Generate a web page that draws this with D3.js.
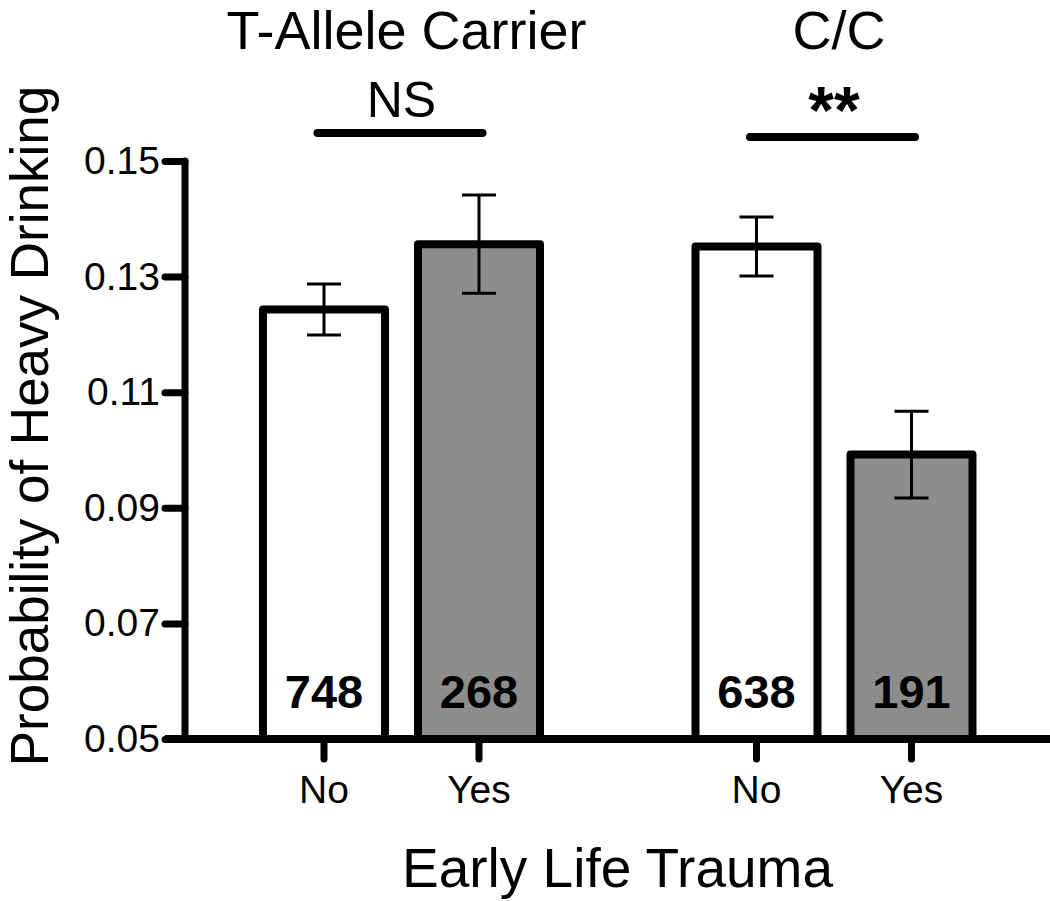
<!DOCTYPE html>
<html>
<head>
<meta charset="utf-8">
<script src="https://cdn.jsdelivr.net/npm/d3@7"></script>
<style>
  body { margin: 0; background: #fff; }
  text { font-family: "Liberation Sans", Arial, sans-serif; fill: #000; }
</style>
</head>
<body>
<script>
// data
const groups = ["T-Allele Carrier", "C/C"];
const trauma = ["No", "Yes"];
const means = [[0.1243, 0.1356], [0.1352, 0.0992]];
const errors = [[0.0044, 0.0085], [0.0051, 0.0075]];
const counts = [[748, 268], [638, 191]];
const signif = ["NS", "**"];
const yTicks = [0.05, 0.07, 0.09, 0.11, 0.13, 0.15];

const W = 1050, H = 901;
const axisX = 185, axisY = 739;

const svg = d3.select("body").append("svg")
  .attr("width", W)
  .attr("height", H);

const y = d3.scaleLinear().domain([0.05, 0.15]).range([axisY, 161]);
const xGroup = d3.scalePoint().domain(groups).range([401.5, 834]);
const xInner = d3.scaleBand().domain(trauma).range([-155, 155])
  .paddingInner(0.213).paddingOuter(0.1065);

const fills = { No: "#fff", Yes: "#8d8d8d" };

// flatten for drawing
const bars = [];
groups.forEach((g, i) => {
  trauma.forEach((t, j) => {
    bars.push({ g, t, mean: means[i][j], err: errors[i][j], n: counts[i][j] });
  });
});
const cx = d => xGroup(d.g) + xInner(d.t) + xInner.bandwidth() / 2;

// bars
svg.selectAll("rect.bar")
  .data(bars)
  .join("rect")
  .attr("class", "bar")
  .attr("x", d => xGroup(d.g) + xInner(d.t))
  .attr("y", d => y(d.mean))
  .attr("width", xInner.bandwidth())
  .attr("height", d => axisY - y(d.mean))
  .attr("fill", d => fills[d.t])
  .attr("stroke", "#000")
  .attr("stroke-width", 8)
  .attr("stroke-linejoin", "round");

// error bars
const eb = svg.selectAll("g.err").data(bars).join("g").attr("class", "err")
  .attr("stroke", "#000").attr("stroke-width", 3);
eb.append("line")
  .attr("x1", cx).attr("x2", cx)
  .attr("y1", d => y(d.mean + d.err)).attr("y2", d => y(d.mean - d.err));
eb.append("line")
  .attr("x1", d => cx(d) - 17).attr("x2", d => cx(d) + 17)
  .attr("y1", d => y(d.mean + d.err)).attr("y2", d => y(d.mean + d.err));
eb.append("line")
  .attr("x1", d => cx(d) - 17).attr("x2", d => cx(d) + 17)
  .attr("y1", d => y(d.mean - d.err)).attr("y2", d => y(d.mean - d.err));

// counts inside bars
svg.selectAll("text.count")
  .data(bars)
  .join("text")
  .attr("class", "count")
  .attr("x", cx)
  .attr("y", 708)
  .attr("text-anchor", "middle")
  .style("font-size", "47px")
  .style("font-weight", "bold")
  .text(d => d.n);

// y axis
const yAxis = svg.append("g")
  .attr("transform", `translate(${axisX},0)`)
  .call(d3.axisLeft(y).tickValues(yTicks).tickFormat(d3.format(".2f")).tickSize(20).tickPadding(5));
yAxis.select(".domain").remove();
yAxis.selectAll(".tick line").attr("stroke", "#000").attr("stroke-width", 7).attr("stroke-linecap", "round");
yAxis.selectAll(".tick text")
  .style("font-size", "39px")
  .style("font-family", "'Liberation Sans', Arial, sans-serif");

svg.append("line")
  .attr("x1", axisX).attr("x2", axisX)
  .attr("y1", y(0.15)).attr("y2", axisY)
  .attr("stroke", "#000").attr("stroke-width", 7).attr("stroke-linecap", "round");

// x axis
svg.append("line")
  .attr("x1", axisX - 20).attr("x2", W)
  .attr("y1", axisY).attr("y2", axisY)
  .attr("stroke", "#000").attr("stroke-width", 8);

svg.selectAll("line.xtick")
  .data(bars)
  .join("line")
  .attr("class", "xtick")
  .attr("x1", cx).attr("x2", cx)
  .attr("y1", axisY).attr("y2", 759)
  .attr("stroke", "#000").attr("stroke-width", 7).attr("stroke-linecap", "round");

svg.selectAll("text.xlab")
  .data(bars)
  .join("text")
  .attr("class", "xlab")
  .attr("x", cx)
  .attr("y", 803)
  .attr("text-anchor", "middle")
  .style("font-size", "39px")
  .text(d => d.t);

// axis titles
svg.append("text")
  .attr("x", (axisX + W) / 2)
  .attr("y", 887)
  .attr("text-anchor", "middle")
  .style("font-size", "55px")
  .text("Early Life Trauma");

svg.append("text")
  .attr("transform", "translate(48,426) rotate(-90)")
  .attr("text-anchor", "middle")
  .style("font-size", "53px")
  .text("Probability of Heavy Drinking");

// group titles and significance
svg.selectAll("text.gtitle")
  .data(groups)
  .join("text")
  .attr("class", "gtitle")
  .attr("x", g => xGroup(g) + 5)
  .attr("y", 49)
  .attr("text-anchor", "middle")
  .style("font-size", "54px")
  .text(g => g);

svg.selectAll("line.sig")
  .data(groups)
  .join("line")
  .attr("class", "sig")
  .attr("x1", g => xGroup(g) - 84).attr("x2", g => xGroup(g) + 81)
  .attr("y1", (g, i) => i ? 137 : 133).attr("y2", (g, i) => i ? 137 : 133)
  .attr("stroke", "#000").attr("stroke-width", 8).attr("stroke-linecap", "round");

svg.selectAll("text.sigtxt")
  .data(groups)
  .join("text")
  .attr("class", "sigtxt")
  .attr("x", g => xGroup(g))
  .attr("y", (g, i) => i ? 133 : 117)
  .attr("text-anchor", "middle")
  .style("font-size", (g, i) => i ? "66px" : "50px")
  .style("font-weight", (g, i) => i ? "bold" : "normal")
  .text((g, i) => signif[i]);
</script>
</body>
</html>
